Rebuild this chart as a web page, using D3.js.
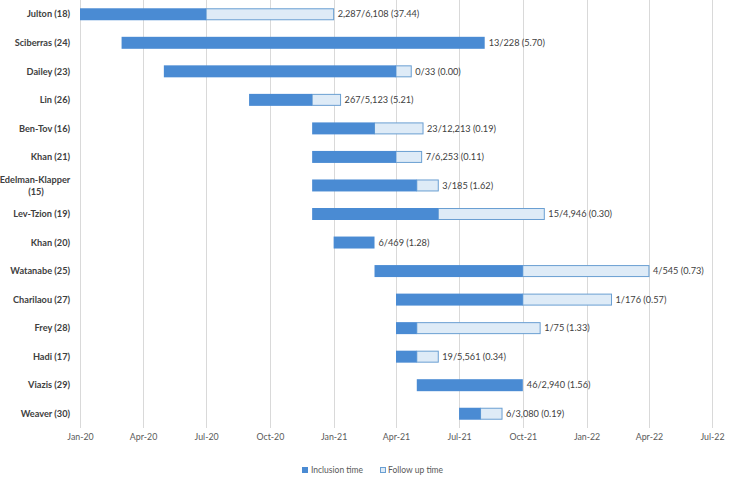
<!DOCTYPE html>
<html>
<head>
<meta charset="utf-8">
<script src="https://cdn.jsdelivr.net/npm/d3@7"></script>
<style>
  html, body { margin: 0; padding: 0; background: #ffffff; }
  svg { display: block; }
</style>
</head>
<body>
<svg id="chart" width="729" height="481"></svg>
<script>
const studies = ["Julton (18)", "Sciberras (24)", "Dailey (23)", "Lin (26)", "Ben-Tov (16)", "Khan (21)",
  "Edelman-Klapper (15)", "Lev-Tzion (19)", "Khan (20)", "Watanabe (25)", "Charilaou (27)", "Frey (28)",
  "Hadi (17)", "Viazis (29)", "Weaver (30)"];
const inclusionStart = ["2020-01-01", "2020-03-01", "2020-05-01", "2020-09-01", "2020-12-01", "2020-12-01",
  "2020-12-01", "2020-12-01", "2021-01-01", "2021-03-01", "2021-04-01", "2021-04-01",
  "2021-04-01", "2021-05-01", "2021-07-01"];
const inclusionEnd = ["2020-07-01", "2021-08-07", "2021-04-01", "2020-12-01", "2021-03-01", "2021-04-01",
  "2021-05-01", "2021-06-01", "2021-03-01", "2021-10-01", "2021-10-01", "2021-05-01",
  "2021-05-01", "2021-10-01", "2021-08-01"];
const followUpEnd = ["2021-01-01", "2021-08-07", "2021-04-23", "2021-01-11", "2021-05-10", "2021-05-08",
  "2021-06-01", "2021-11-01", "2021-03-01", "2022-04-01", "2022-02-06", "2021-10-26",
  "2021-06-01", "2021-10-01", "2021-09-01"];
const barLabels = ["2,287/6,108 (37.44)", "13/228 (5.70)", "0/33 (0.00)", "267/5,123 (5.21)", "23/12,213 (0.19)",
  "7/6,253 (0.11)", "3/185 (1.62)", "15/4,946 (0.30)", "6/469 (1.28)", "4/545 (0.73)", "1/176 (0.57)",
  "1/75 (1.33)", "19/5,561 (0.34)", "46/2,940 (1.56)", "6/3,080 (0.19)"];
const axisStart = "2020-01-01";
const axisEnd = "2022-07-01";
const legendLabels = ["Inclusion time", "Follow up time"];

const parse = d3.timeParse("%Y-%m-%d");
const colInc = "#4a8bd3";
const colFollowFill = "#deebf7";
const colFollowStroke = "#6a9fd2";
const textCol = "#404040";
const font = "Lato, 'Open Sans', sans-serif";

const svg = d3.select("#chart");
const x = d3.scaleTime().domain([parse(axisStart), parse(axisEnd)]).range([80, 712]);
const y = d3.scaleBand().domain(studies).range([0, 428]).paddingInner(0.58).paddingOuter(0.29);

// gridlines
const ticks = d3.timeMonth.every(3).range(parse(axisStart), d3.timeDay.offset(parse(axisEnd), 1));
svg.append("g").selectAll("line").data(ticks).join("line")
  .attr("x1", d => Math.round(x(d)) + 0.5).attr("x2", d => Math.round(x(d)) + 0.5)
  .attr("y1", 0).attr("y2", 428)
  .attr("stroke", "#d9d9d9").attr("stroke-width", 1);

// x axis labels
const xAxis = d3.axisBottom(x).tickValues(ticks).tickFormat(d3.timeFormat("%b-%y")).tickSize(0).tickPadding(0);
const gx = svg.append("g").attr("transform", "translate(0,434)").call(xAxis);
gx.select(".domain").remove();
gx.selectAll("text").attr("font-family", font).attr("font-size", 8.8).attr("fill", "#595959").attr("dy", "0.71em");

const rows = studies.map((s, i) => ({
  name: s, s: parse(inclusionStart[i]), e: parse(inclusionEnd[i]), f: parse(followUpEnd[i]), label: barLabels[i]
}));

// follow-up bars
svg.append("g").selectAll("rect").data(rows.filter(d => d.f > d.e)).join("rect")
  .attr("x", d => x(d.e)).attr("y", d => y(d.name) + 0.5)
  .attr("width", d => x(d.f) - x(d.e)).attr("height", y.bandwidth() - 1)
  .attr("fill", colFollowFill).attr("stroke", colFollowStroke).attr("stroke-width", 1);

// inclusion bars
svg.append("g").selectAll("rect").data(rows).join("rect")
  .attr("x", d => x(d.s)).attr("y", d => y(d.name))
  .attr("width", d => x(d.e) - x(d.s)).attr("height", y.bandwidth())
  .attr("fill", colInc);

// bar labels
svg.append("g").selectAll("text").data(rows).join("text")
  .attr("x", d => Math.max(x(d.e), x(d.f)) + 4)
  .attr("y", d => y(d.name) + y.bandwidth() / 2)
  .attr("dy", "0.35em")
  .attr("font-family", font).attr("font-size", 9.2).attr("fill", textCol)
  .text(d => d.label);

// y labels
const yl = svg.append("g");
rows.forEach(d => {
  const cy = y(d.name) + y.bandwidth() / 2;
  if (d.name === "Edelman-Klapper (15)") {
    const t = yl.append("text").attr("font-family", font).attr("font-size", 9.2).attr("font-weight", "bold")
      .attr("fill", textCol).attr("text-anchor", "middle");
    t.append("tspan").attr("x", 35).attr("y", cy - 5.5).attr("dy", "0.35em").text("Edelman-Klapper");
    t.append("tspan").attr("x", 36).attr("y", cy + 6.5).attr("dy", "0.35em").text("(15)");
  } else {
    yl.append("text").attr("x", 70).attr("y", cy).attr("dy", "0.35em")
      .attr("text-anchor", "end")
      .attr("font-family", font).attr("font-size", 9.2).attr("font-weight", "bold")
      .attr("fill", textCol).text(d.name);
  }
});

// legend
const lg = svg.append("g").attr("transform", "translate(302,470)");
lg.append("rect").attr("x", 0).attr("y", -3).attr("width", 6).attr("height", 6).attr("fill", colInc);
lg.append("text").attr("x", 9).attr("y", 0).attr("dy", "0.35em").attr("font-family", font)
  .attr("font-size", 8.5).attr("fill", "#595959").text(legendLabels[0]);
lg.append("rect").attr("x", 78.5).attr("y", -2.5).attr("width", 5).attr("height", 5)
  .attr("fill", colFollowFill).attr("stroke", colFollowStroke);
lg.append("text").attr("x", 86).attr("y", 0).attr("dy", "0.35em").attr("font-family", font)
  .attr("font-size", 8.5).attr("fill", "#595959").text(legendLabels[1]);
</script>
</body>
</html>
